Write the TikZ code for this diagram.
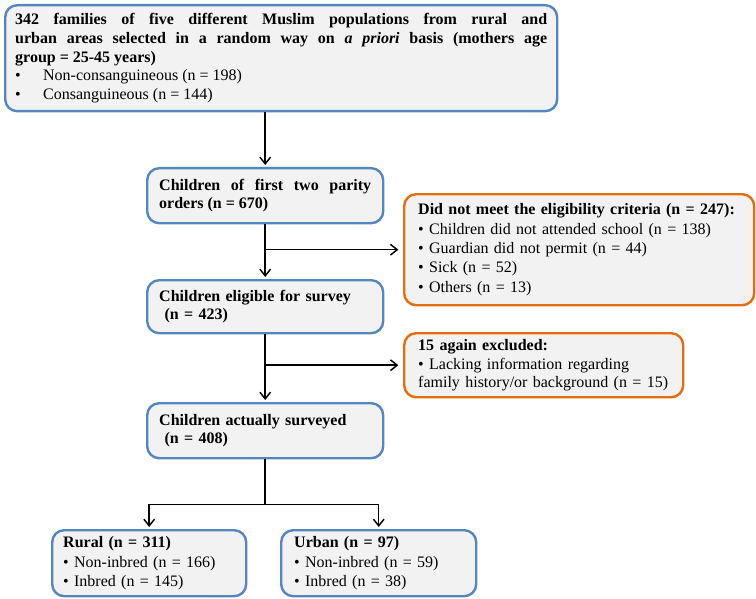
\documentclass[tikz,border=0pt]{standalone}
\usepackage{fontspec}
\setmainfont{Liberation Serif}
\usetikzlibrary{arrows.meta}
\definecolor{bblue}{RGB}{84,134,194}
\definecolor{borange}{RGB}{228,110,14}
\definecolor{bfill}{RGB}{242,242,242}
\begin{document}
\begin{tikzpicture}[x=0.75pt,y=-0.75pt,
  boxbase/.style={draw, line width=1.8pt, fill=bfill, rounded corners=9pt, anchor=north west,
    font=\fontsize{12}{14}\selectfont, inner ysep=2pt},
  bluebox/.style={boxbase, draw=bblue},
  orangebox/.style={boxbase, draw=borange},
  conn/.style={line width=1.1pt, black},
  arr/.style={conn, -{Straight Barb[length=5pt,width=8pt,line width=1.1pt]}}
]
\useasboundingbox (0,0) rectangle (756,599);

\node[bluebox, minimum width=414pt, minimum height=79.5pt, text width=399pt, inner xsep=7.5pt, align=justify] (top) at (4,4)
{\textbf{342 families of five different Muslim populations from rural and\linebreak urban areas selected in a random way on \textit{a priori} basis (mothers age\linebreak group = 25-45 years)}\par
\makebox[21pt][l]{\textbullet}Non-consanguineous (n = 198)\par
\makebox[21pt][l]{\textbullet}Consanguineous (n = 144)};

\node[bluebox, minimum width=177pt, minimum height=41.25pt, text width=159pt, inner xsep=9pt, align=justify] (c2) at (146,167)
{\textbf{Children of first two parity\linebreak orders (n = 670)}};

\node[orangebox, minimum width=262.5pt, minimum height=83.25pt, text width=241.5pt, inner xsep=10.5pt, align=left,
  font=\fontsize{12}{14.5}\selectfont] (o1) at (403,193)
{\textbf{Did not meet the eligibility criteria (n = 247):}\\
\textbullet~Children did not attended school (n = 138)\\
\textbullet~Guardian did not permit (n = 44)\\
\textbullet~Sick (n = 52)\\
\textbullet~Others (n = 13)};

\node[bluebox, minimum width=177pt, minimum height=39.75pt, text width=159pt, inner xsep=9pt, align=left] (c3) at (146,279)
{\textbf{Children eligible for survey}\\ \hspace*{4pt}\textbf{(n = 423)}};

\node[orangebox, minimum width=209.25pt, minimum height=48pt, text width=188.25pt, inner xsep=10.5pt, align=left] (o2) at (403,332)
{\textbf{15 again excluded:}\\
\textbullet~Lacking information regarding\\
family history/or background (n = 15)};

\node[bluebox, minimum width=177pt, minimum height=41.25pt, text width=159pt, inner xsep=9pt, align=left] (c4) at (146,402)
{\textbf{Children actually surveyed}\\ \hspace*{4pt}\textbf{(n = 408)}};

\node[bluebox, minimum width=145.5pt, minimum height=49.5pt, text width=129pt, inner xsep=8.25pt, align=left,
  font=\fontsize{12}{14.5}\selectfont] (rural) at (51,529)
{\textbf{Rural (n = 311)}\\
\textbullet~Non-inbred (n = 166)\\
\textbullet~Inbred (n = 145)};

\node[bluebox, minimum width=146.25pt, minimum height=49.5pt, text width=126.75pt, inner xsep=9.75pt, align=left,
  font=\fontsize{12}{14.5}\selectfont] (urban) at (280,529)
{\textbf{Urban (n = 97)}\\
\textbullet~Non-inbred (n = 59)\\
\textbullet~Inbred (n = 38)};

% connectors
\draw[arr, shorten >=1.5pt] (c2.north |- top.south) -- (c2.north);
\draw[arr, shorten >=1.5pt] (c2.south) -- (c3.north);
\coordinate (b1) at (c2.south |- o1.west);
\draw[arr, shorten >=3.5pt] (b1) -- (o1.west);
\draw[arr, shorten >=1.5pt] (c3.south) -- (c4.north);
\coordinate (b2) at (c3.south |- o2.west);
\draw[arr, shorten >=3.5pt] (b2) -- (o2.west);
\coordinate (split) at ([yshift=-33.75pt]c4.south);
\draw[conn] (c4.south) -- (split);
\draw[arr, shorten >=1.5pt] (split) -| (rural.north);
\draw[arr, shorten >=1.5pt] (split) -| (urban.north);
\end{tikzpicture}
\end{document}
